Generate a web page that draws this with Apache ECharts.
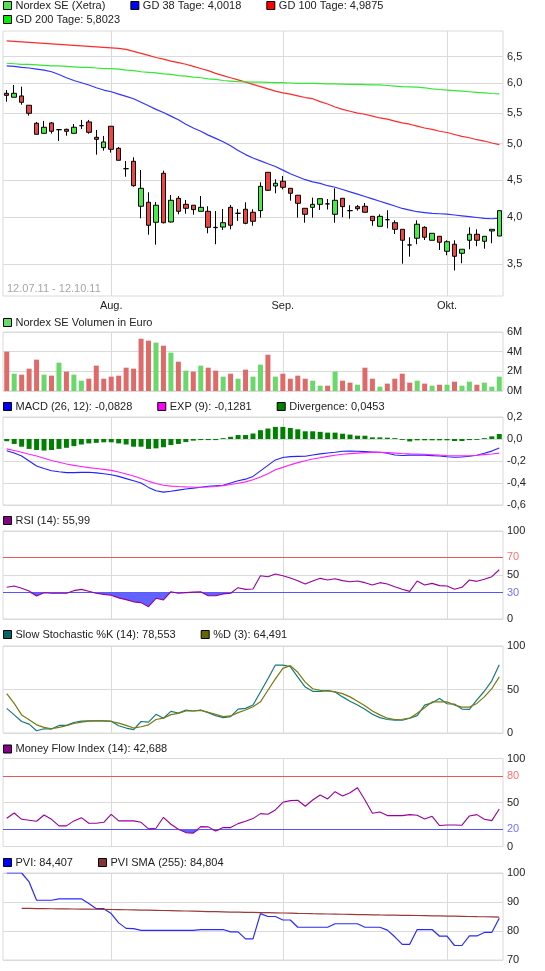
<!DOCTYPE html>
<html><head><meta charset="utf-8">
<script src="https://cdn.jsdelivr.net/npm/echarts@6/dist/echarts.min.js"></script>
<style>html,body{margin:0;padding:0;background:#fff}#c{width:545px;height:971px}</style>
</head><body><div id="c"></div>
<script>
const dates = ['12.07.11','13.07.11','14.07.11','15.07.11','18.07.11','19.07.11','20.07.11','21.07.11','22.07.11','25.07.11','26.07.11','27.07.11','28.07.11','29.07.11',
'01.08.11','02.08.11','03.08.11','04.08.11','05.08.11','08.08.11','09.08.11','10.08.11','11.08.11','12.08.11','15.08.11','16.08.11','17.08.11','18.08.11','19.08.11','22.08.11','23.08.11','24.08.11','25.08.11','26.08.11','29.08.11','30.08.11','31.08.11',
'01.09.11','02.09.11','05.09.11','06.09.11','07.09.11','08.09.11','09.09.11','12.09.11','13.09.11','14.09.11','15.09.11','16.09.11','19.09.11','20.09.11','21.09.11','22.09.11','23.09.11','26.09.11','27.09.11','28.09.11','29.09.11','30.09.11',
'03.10.11','04.10.11','05.10.11','06.10.11','07.10.11','10.10.11','11.10.11','12.10.11'];
const monthLabels = {'01.08.11':'Aug.','01.09.11':'Sep.','03.10.11':'Okt.'};

const open  = [5.813,5.745,5.767,5.609,5.315,5.158,5.320,5.214,5.220,5.158,5.277,5.336,5.097,4.941,5.268,4.932,4.640,4.744,4.147,4.197,3.953,4.577,3.957,4.247,4.171,4.160,4.085,4.085,3.894,3.897,4.134,4.061,4.110,4.073,4.093,4.590,4.406,4.469,4.376,4.286,4.122,4.134,4.171,4.177,4.049,4.247,4.093,4.142,4.147,4.024,3.906,3.984,3.948,3.871,3.694,3.769,3.894,3.746,3.791,3.625,3.702,3.603,3.746,3.814,3.735,3.852,3.794];
const high  = [5.871,5.959,5.929,5.609,5.336,5.352,5.336,5.225,5.230,5.304,5.368,5.368,5.209,5.117,5.268,4.951,4.748,4.801,4.622,4.324,4.201,4.613,4.289,4.276,4.226,4.160,4.276,4.147,4.089,4.114,4.163,4.114,4.197,4.110,4.455,4.590,4.496,4.540,4.376,4.286,4.122,4.255,4.242,4.238,4.376,4.247,4.160,4.163,4.188,4.024,4.049,4.098,3.977,3.871,3.780,3.977,3.906,3.825,3.791,3.746,3.746,3.647,3.894,3.871,3.791,3.871,4.093];
const low   = [5.669,5.745,5.619,5.437,5.143,5.158,5.152,5.041,5.121,5.158,5.225,5.152,4.839,4.897,4.868,4.758,4.530,4.397,4.000,3.809,3.697,3.940,3.950,4.049,4.056,4.044,4.085,3.825,3.702,3.863,3.871,3.969,3.930,3.913,4.008,4.340,4.311,4.361,4.217,4.008,3.948,4.008,4.101,4.107,3.948,4.013,3.996,4.093,4.073,3.913,3.906,3.883,3.817,3.493,3.567,3.702,3.749,3.746,3.639,3.582,3.424,3.497,3.647,3.680,3.653,3.713,3.794];
const close = [5.778,5.813,5.659,5.476,5.143,5.252,5.189,5.214,5.189,5.252,5.277,5.173,5.066,5.026,4.917,4.758,4.640,4.410,4.376,3.918,4.160,3.948,4.222,4.085,4.122,4.105,4.134,3.894,3.890,3.948,3.918,4.061,3.941,3.965,4.402,4.350,4.442,4.389,4.311,4.184,4.049,4.171,4.242,4.177,4.222,4.142,4.093,4.117,4.073,3.972,4.024,3.984,3.871,3.746,3.694,3.930,3.780,3.825,3.724,3.730,3.571,3.647,3.814,3.746,3.791,3.871,4.093];

const gd38  = [6.31,6.30,6.28,6.27,6.25,6.23,6.20,6.15,6.09,6.04,6.00,5.96,5.91,5.87,5.84,5.80,5.76,5.72,5.66,5.60,5.54,5.49,5.43,5.37,5.30,5.24,5.19,5.13,5.08,5.03,4.97,4.90,4.84,4.79,4.75,4.71,4.67,4.62,4.57,4.53,4.49,4.46,4.44,4.41,4.39,4.36,4.33,4.30,4.27,4.24,4.21,4.18,4.15,4.12,4.10,4.08,4.07,4.06,4.055,4.05,4.04,4.03,4.02,4.01,4.00,3.995,4.0018];
const gd100 = [6.80,6.79,6.78,6.77,6.76,6.75,6.74,6.73,6.72,6.71,6.70,6.69,6.68,6.67,6.66,6.65,6.63,6.59,6.55,6.51,6.47,6.44,6.40,6.37,6.34,6.30,6.26,6.22,6.17,6.13,6.09,6.05,6.01,5.97,5.93,5.89,5.85,5.82,5.80,5.77,5.74,5.72,5.67,5.63,5.58,5.54,5.51,5.48,5.46,5.43,5.40,5.38,5.35,5.32,5.30,5.27,5.24,5.22,5.19,5.17,5.14,5.11,5.09,5.06,5.04,5.01,4.9875];
const gd200 = [6.36,6.35,6.34,6.34,6.33,6.32,6.31,6.31,6.30,6.29,6.28,6.28,6.27,6.26,6.26,6.25,6.23,6.22,6.20,6.19,6.18,6.16,6.15,6.13,6.12,6.10,6.09,6.07,6.06,6.04,6.03,6.02,6.015,6.01,6.01,6.005,6.00,6.00,5.995,5.99,5.99,5.99,5.985,5.98,5.98,5.975,5.97,5.97,5.965,5.96,5.96,5.95,5.94,5.93,5.925,5.92,5.91,5.89,5.88,5.87,5.86,5.85,5.84,5.83,5.82,5.81,5.8023];
const priceTicks = [3.5,4.0,4.5,5.0,5.5,6.0,6.5];

const volumeM = [4.0,1.76,1.66,2.27,3.19,1.66,1.56,2.88,1.97,1.66,1.05,1.25,2.58,1.25,1.46,1.56,2.37,2.27,5.32,5.12,4.92,4.61,3.90,2.98,2.07,1.97,2.58,2.37,2.07,1.46,1.76,1.25,2.17,1.46,2.68,3.69,1.46,1.76,1.25,1.56,1.25,1.05,0.54,0.54,1.97,1.05,0.85,0.64,2.37,1.25,0.44,0.75,1.25,1.76,0.85,1.05,0.75,0.54,0.64,0.64,0.95,0.54,0.95,0.64,0.85,0.44,1.46];

const macd = [-0.106,-0.128,-0.155,-0.20,-0.245,-0.268,-0.288,-0.298,-0.306,-0.306,-0.303,-0.302,-0.308,-0.316,-0.325,-0.34,-0.36,-0.38,-0.40,-0.44,-0.47,-0.483,-0.475,-0.465,-0.455,-0.447,-0.438,-0.43,-0.425,-0.42,-0.40,-0.38,-0.365,-0.34,-0.29,-0.24,-0.19,-0.168,-0.16,-0.158,-0.157,-0.145,-0.135,-0.127,-0.12,-0.112,-0.11,-0.112,-0.115,-0.118,-0.121,-0.13,-0.145,-0.15,-0.147,-0.145,-0.148,-0.151,-0.155,-0.162,-0.166,-0.163,-0.157,-0.148,-0.13,-0.11,-0.0828];
const macdExp = [-0.09,-0.105,-0.12,-0.138,-0.155,-0.175,-0.195,-0.212,-0.228,-0.24,-0.25,-0.26,-0.268,-0.276,-0.285,-0.30,-0.318,-0.336,-0.36,-0.385,-0.405,-0.42,-0.428,-0.432,-0.435,-0.437,-0.438,-0.437,-0.432,-0.424,-0.414,-0.403,-0.39,-0.37,-0.345,-0.315,-0.28,-0.258,-0.235,-0.215,-0.197,-0.182,-0.17,-0.158,-0.148,-0.139,-0.133,-0.128,-0.124,-0.122,-0.121,-0.124,-0.128,-0.132,-0.135,-0.137,-0.14,-0.143,-0.147,-0.15,-0.152,-0.153,-0.152,-0.148,-0.142,-0.136,-0.1281];
const divergence = [-0.02,-0.045,-0.07,-0.09,-0.10,-0.105,-0.10,-0.09,-0.08,-0.065,-0.05,-0.04,-0.035,-0.03,-0.03,-0.04,-0.05,-0.07,-0.07,-0.09,-0.085,-0.075,-0.055,-0.045,-0.028,-0.015,-0.01,-0.01,-0.01,0.008,0.02,0.036,0.036,0.05,0.08,0.095,0.11,0.11,0.10,0.088,0.07,0.07,0.065,0.058,0.058,0.048,0.04,0.03,0.03,0.015,0.015,0.012,0.008,-0.008,-0.022,-0.012,-0.012,-0.012,-0.012,-0.012,-0.018,-0.018,-0.01,-0.008,0.008,0.024,0.0453];

const rsi = [36,37.5,35,31.8,26.1,29.9,29.2,29.2,29.2,32.2,33.7,31.5,29.2,28,27,24,22,19.5,18.6,14,23.5,21.6,31,29.2,30,30.5,31,26.5,26.5,28.5,29.2,35.6,33.7,34.1,49.2,48.1,51.1,49.2,46.5,43.5,39.8,43.2,46.2,44.3,45.8,43.6,42.4,43.2,41.3,38.6,41.3,39.8,36.7,33.7,31.4,43.2,38.6,40.5,37.9,37.5,33.7,36,44.3,42.8,45.1,48.1,55.99];
const stochK = [28.3,20.8,13.2,10.2,2.6,4.9,4.5,8.7,8.7,12.1,13.6,14,14,14,13.6,8.3,5.7,3.8,13.2,12.5,21.5,17,24.9,23,26.4,25.3,26.4,23.4,20,17.7,18.9,27.5,28.3,32.1,47.2,62.3,78.1,78.1,76.2,64.2,52.8,47.9,47.9,48.7,47.2,41.5,36.6,32.1,27.2,21.5,17.7,15.5,14.7,14.7,17,20,32.1,34.7,39.6,33.6,33.2,27.5,27.2,38,48,60,78.553];
const stochD = [45.3,34,20.8,15.1,9.4,6.4,4.9,6.4,8.3,10.9,12.5,13.6,14,14,13.2,11.3,8.7,5.7,7.2,9.4,15.5,17,21.1,22.6,25.3,25.3,26,23.8,21.5,18.9,19.6,23.4,26.4,30.2,35.8,49.1,62.3,74.3,77.4,69.8,58.5,50.9,49.1,48.3,47.2,45.3,41.5,36.6,31.3,25.3,20.8,17,15.5,15.8,17,22.6,29.1,35.8,35.8,35.8,32.1,29.8,29.8,34,41.5,50.9,64.491];
const mfi = [32.1,38.1,30.9,29.8,28.7,35.8,30.9,23.4,23.4,29.1,32.8,26.4,26.4,27.5,36.6,29.1,29.1,29.1,27.5,20,20.8,33.2,25.3,19.6,15.8,15.1,22.6,22.3,17.7,21.5,21.5,26,28.7,31.7,37.4,36.6,41.5,50.2,52.1,52.5,45.7,52.8,58.5,54,62.3,57.4,61.1,66.8,52.8,37.7,39.2,35.1,35.1,35.1,36.2,35.5,31.3,34.3,23.8,24.5,24.5,24.2,34.7,36.2,30.9,29.4,42.688];
const pvi = [100,100,100,96.9,90.6,90.6,90.6,91.1,91.1,91.1,91.1,89.5,87.7,87.7,86,82.8,80.9,80.8,80.2,80.2,80.2,80.2,80.2,80.2,80.2,80.2,80.5,80.5,80.5,80.5,79.7,79.7,77.3,77.3,86,85,85,83.8,83.8,81.3,81.3,81.3,81.3,81.3,82.5,82.5,82.5,82.5,81.3,81.3,81.3,80.3,78,75.4,75.4,80.5,80.5,80.5,78.2,78.2,75,75,78.3,78.3,79.5,79.5,84.407];
const pviSma = [null,null,87.80,87.77,87.74,87.71,87.68,87.65,87.62,87.59,87.56,87.53,87.50,87.46,87.42,87.38,87.33,87.28,87.23,87.18,87.13,87.07,87.01,86.95,86.89,86.83,86.77,86.71,86.65,86.59,86.54,86.49,86.44,86.40,86.36,86.31,86.26,86.20,86.15,86.09,86.04,85.98,85.93,85.87,85.82,85.77,85.72,85.67,85.62,85.58,85.54,85.50,85.46,85.42,85.38,85.34,85.29,85.24,85.19,85.14,85.10,85.05,85.00,84.95,84.91,84.86,84.804];

// ---------- styling ----------
const FONT = 'Liberation Sans, Arial, sans-serif';
const GRID_C = '#dadada';
const TXT = '#222';
const monthIdx = dates.map((d,i)=>monthLabels[d]?i:-1).filter(i=>i>=0);
const ln = Math.log;

const gridDefs = [
  {top:31, height:265},
  {top:332, height:59},
  {top:417, height:88},
  {top:531, height:88},
  {top:646, height:87},
  {top:758.5, height:88},
  {top:873, height:87}
];
const grids = gridDefs.map(g=>({left:3, right:42, top:g.top, height:g.height, show:true, borderColor:GRID_C, borderWidth:1, containLabel:false}));

const xAxes = gridDefs.map((g,k)=>({
  type:'category', data:dates, gridIndex:k, boundaryGap:true,
  axisLine:{show:false}, axisTick:{show:false}, splitLine:{show:false},
  axisLabel:{show:k===0, interval:(i,v)=>monthLabels[v]!==undefined, formatter:v=>monthLabels[v]||'', margin:4, fontSize:11, color:TXT, fontFamily:FONT}
}));

function yAx(k, o){
  return Object.assign({type:'value', gridIndex:k, position:'right', axisLine:{show:false}, axisTick:{show:false},
    splitLine:{show:true, lineStyle:{color:GRID_C, width:1}},
    axisLabel:{show:true, margin:4, fontSize:11, color:TXT, fontFamily:FONT}}, o);
}
const comma1 = v => (Math.abs(v)<1e-9?0:v).toFixed(1).replace('.',',');
const yAxes = [
  yAx(0,{min:1.1541, max:1.9464, axisLabel:{show:false}, splitLine:{show:false}}),
  yAx(1,{min:0, max:6, interval:2, axisLabel:{margin:4, fontSize:11, color:TXT, fontFamily:FONT, formatter:v=>v+'M'}}),
  yAx(2,{min:-0.6, max:0.2, interval:0.2, axisLabel:{margin:4, fontSize:11, color:TXT, fontFamily:FONT, formatter:comma1}}),
  yAx(3,{min:0, max:100, interval:50}),
  yAx(4,{min:0, max:100, interval:50}),
  yAx(5,{min:0, max:100, interval:50}),
  yAx(6,{min:70, max:100, interval:10})
];

function marks(extra){
  return {silent:true, symbol:['none','none'], z:1, animation:false,
    lineStyle:{type:'solid', color:GRID_C, width:1},
    label:{show:false}, emphasis:{disabled:true},
    data: monthIdx.map(i=>({xAxis:i})).concat(extra||[])};
}
function hLine(v, color, labelText, labelColor){
  return {yAxis:v, lineStyle:{type:'solid', color:color, width:1},
    label:{show:true, position:'end', distance:4, formatter:labelText, color:labelColor, fontSize:11, fontFamily:FONT}};
}

const UP = '#44ee44', DOWN = '#ee4444';
const VOL_UP = '#6ad86a', VOL_DOWN = '#df6a6a';

const priceMarks = priceTicks.map(t=>hLine(ln(t), GRID_C, t.toFixed(1).replace('.',','), TXT));

const lineBase = (name, k, data, color, w) => ({
  name, type:'line', xAxisIndex:k, yAxisIndex:k, data, showSymbol:false, symbol:'none',
  lineStyle:{color, width:w||1.1}, itemStyle:{color}, z:3, animation:false, connectNulls:true
});

const series = [];
series.push({
  name:'Nordex SE (Xetra)', type:'candlestick', xAxisIndex:0, yAxisIndex:0, barWidth:5, z:3,
  data: dates.map((d,i)=>[ln(open[i]), ln(close[i]), ln(low[i]), ln(high[i])]),
  itemStyle:{color:UP, color0:DOWN, borderColor:'#000', borderColor0:'#000', borderColorDoji:'#000', borderWidth:1},
  markLine: marks(priceMarks), animation:false
});
series.push(lineBase('GD 38 Tage: 4,0018', 0, gd38.map(ln), '#3333ff', 1.2));
series.push(lineBase('GD 100 Tage: 4,9875', 0, gd100.map(ln), '#ff2a2a', 1.2));
series.push(lineBase('GD 200 Tage: 5,8023', 0, gd200.map(ln), '#33e833', 1.2));

series.push({
  name:'Nordex SE Volumen in Euro', type:'bar', xAxisIndex:1, yAxisIndex:1, barWidth:5, z:3, animation:false,
  data: volumeM.map((v,i)=>({value:v, itemStyle:{color:(i===0||close[i]<close[i-1])?VOL_DOWN:VOL_UP}})),
  itemStyle:{color:VOL_UP}, markLine: marks()
});

series.push({name:'Divergence: 0,0453', type:'bar', xAxisIndex:2, yAxisIndex:2, barWidth:5, data:divergence,
  itemStyle:{color:'#008000'}, z:2, animation:false, markLine: marks()});
series.push(lineBase('MACD (26, 12): -0,0828', 2, macd, '#2222ff'));
series.push(lineBase('EXP (9): -0,1281', 2, macdExp, '#ff22ff'));

// RSI with fill below 30
const rsiBase = rsi.map(v=>Math.min(v,30));
series.push({name:'_rsiBase', type:'line', xAxisIndex:3, yAxisIndex:3, stack:'rsi', data:rsiBase, showSymbol:false, symbol:'none', lineStyle:{opacity:0, width:0}, animation:false, z:2});
series.push({name:'_rsiFill', type:'line', xAxisIndex:3, yAxisIndex:3, stack:'rsi', data:rsiBase.map(v=>30-v), showSymbol:false, symbol:'none', lineStyle:{opacity:0, width:0}, areaStyle:{color:'#6262ff', opacity:1}, animation:false, z:2});
series.push(Object.assign(lineBase('RSI (14): 55,99', 3, rsi, '#990099'), {markLine: marks([hLine(70,'#ee5555','70','#ff7070'), hLine(30,'#5555ff','30','#7070ff')])}));

series.push(Object.assign(lineBase('Slow Stochastic %K (14): 78,553', 4, stochK, '#157a7a', 1.2), {markLine: marks()}));
series.push(lineBase('%D (3): 64,491', 4, stochD, '#7a7a10', 1.2));

const mfiBase = mfi.map(v=>Math.min(v,20));
series.push({name:'_mfiBase', type:'line', xAxisIndex:5, yAxisIndex:5, stack:'mfi', data:mfiBase, showSymbol:false, symbol:'none', lineStyle:{opacity:0, width:0}, animation:false, z:2});
series.push({name:'_mfiFill', type:'line', xAxisIndex:5, yAxisIndex:5, stack:'mfi', data:mfiBase.map(v=>20-v), showSymbol:false, symbol:'none', lineStyle:{opacity:0, width:0}, areaStyle:{color:'#6262ff', opacity:1}, animation:false, z:2});
series.push(Object.assign(lineBase('Money Flow Index (14): 42,688', 5, mfi, '#990099'), {markLine: marks([hLine(80,'#ee5555','80','#ff7070'), hLine(20,'#5555ff','20','#7070ff')])}));

series.push(Object.assign(lineBase('PVI: 84,407', 6, pvi, '#2a2aff', 1.2), {markLine: marks()}));
series.push(lineBase('PVI SMA (255): 84,804', 6, pviSma, '#9a3a3a', 1.2));

function legend(top, items){
  return {top, left:3, padding:0, itemGap:25, itemWidth:8, itemHeight:8, icon:'rect', selectedMode:false,
    itemStyle:{borderColor:'#000', borderWidth:1},
    textStyle:{fontSize:11, color:TXT, fontFamily:FONT, padding:[0,0,0,-1]},
    data: items.map(([name,color])=>({name, itemStyle:{color}}))};
}
const legends = [
  legend(0, [['Nordex SE (Xetra)','#4ee44e'],['GD 38 Tage: 4,0018','#0000ff'],['GD 100 Tage: 4,9875','#ff0000']]),
  legend(14, [['GD 200 Tage: 5,8023','#00ee00']]),
  legend(317, [['Nordex SE Volumen in Euro','#66dd66']]),
  legend(401, [['MACD (26, 12): -0,0828','#0000ff'],['EXP (9): -0,1281','#ff00ff'],['Divergence: 0,0453','#008000']]),
  legend(515, [['RSI (14): 55,99','#880088']]),
  legend(629, [['Slow Stochastic %K (14): 78,553','#006666'],['%D (3): 64,491','#666600']]),
  legend(743.5, [['Money Flow Index (14): 42,688','#880088']]),
  legend(857, [['PVI: 84,407','#0000ff'],['PVI SMA (255): 84,804','#883333']])
];

const chart = echarts.init(document.getElementById('c'), null, {renderer:'canvas'});
chart.setOption({
  animation:false,
  backgroundColor:'#fff',
  textStyle:{fontFamily:FONT},
  title:{text:'12.07.11 - 12.10.11', left:7, top:283, padding:0, textStyle:{fontSize:11, color:'#a6a6a6', fontWeight:'normal', fontFamily:FONT}},
  legend: legends,
  grid: grids,
  xAxis: xAxes,
  yAxis: yAxes,
  series
});
</script></body></html>
